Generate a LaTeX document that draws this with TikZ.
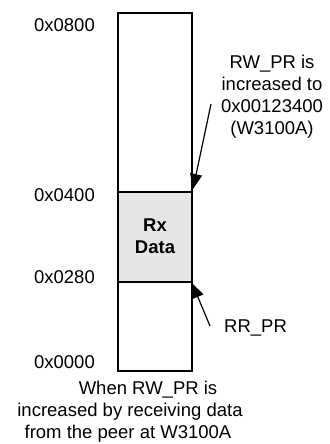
\documentclass[tikz,border=0pt]{standalone}
\usepackage{fontspec}
\setmainfont{Liberation Sans}
\usetikzlibrary{arrows.meta}
\begin{document}
\begin{tikzpicture}[x=1pt,y=-1pt,
  lbl/.style={font=\fontsize{18.5}{22}\selectfont, inner sep=0pt},
  addr/.style={lbl, anchor=east},
  box/.style={draw=black, line width=2.7pt},
  ptr/.style={draw=black, line width=1.2pt, -{Triangle[length=15pt,width=12pt]}}]
\useasboundingbox (0,0) rectangle (329,444);
% memory column
\draw[box] (118,13) rectangle (192,192);
\draw[box, fill={rgb,255:red,230;green,230;blue,230}] (118,192) rectangle (192,282);
\draw[box] (118,282) rectangle (192,371);
\node[lbl, align=center, font=\fontsize{18.5}{22}\selectfont\bfseries] (rx) at (155,236) {Rx\\Data};
% addresses
\node[addr] (a800) at (95,25) {0x0800};
\node[addr] (a400) at (95,195) {0x0400};
\node[addr] (a280) at (95,277) {0x0280};
\node[addr] (a000) at (95,362) {0x0000};
% pointers
\node[lbl, align=center] (rwtxt) at (272,97) {RW\_PR is\\increased to\\0x00123400\\(W3100A)};
\coordinate (rwstart) at (211,104);
\coordinate (rwtip) at (193,189);
\draw[ptr] (rwstart) -- (rwtip);
\node[lbl, anchor=west] (rrtxt) at (224,328) {RR\_PR};
\coordinate (rrstart) at (210,326);
\coordinate (rrtip) at (192,283);
\draw[ptr] (rrstart) -- (rrtip);
% caption
\node[lbl] (cap1) at (148,390) {When RW\_PR is};
\node[lbl] (cap2) at (130,412) {increased by receiving data};
\node[lbl] (cap3) at (128,434) {from the peer at W3100A};
\end{tikzpicture}
\end{document}
